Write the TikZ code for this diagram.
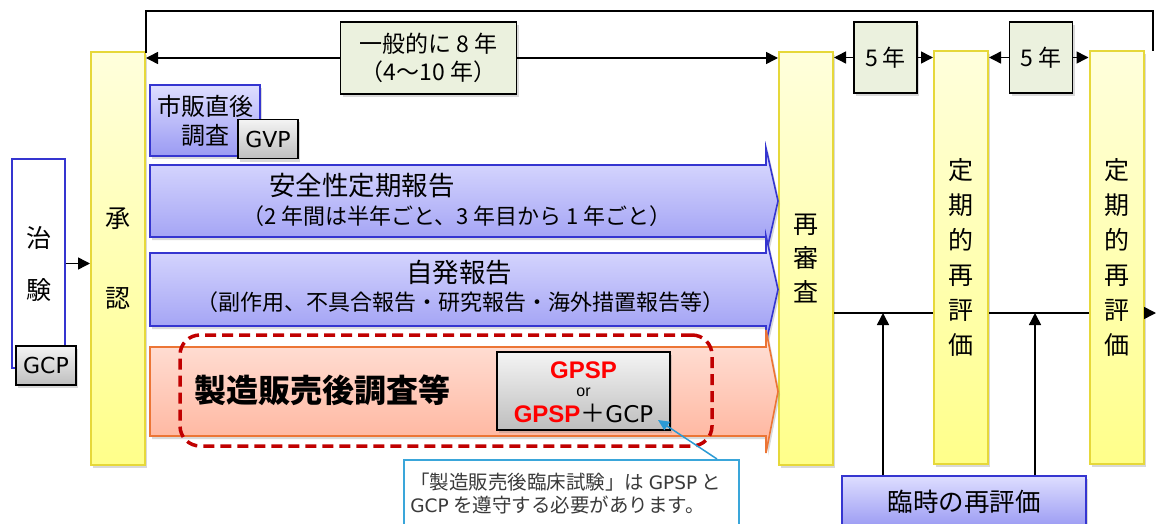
\documentclass[tikz,border=0pt]{standalone}
\usepackage{fontspec}
\setmainfont{Noto Sans CJK JP}
\newfontfamily\latinfont{DejaVu Sans}
\newfontfamily\gpspfont{Liberation Sans}
\usetikzlibrary{arrows.meta,shadows,positioning}

\definecolor{yellowline}{HTML}{E6D83A}
\definecolor{yellowtop}{HTML}{FFFFDC}
\definecolor{yellowbot}{HTML}{FFFF8A}
\definecolor{blueline}{HTML}{3535D0}
\definecolor{bluetop}{HTML}{DEDEFF}
\definecolor{bluebot}{HTML}{9A9AF3}
\definecolor{orangeline}{HTML}{EC7535}
\definecolor{orangetop}{HTML}{FFE3DA}
\definecolor{orangebot}{HTML}{FFB29A}
\definecolor{greenfill}{HTML}{EBF1DE}
\definecolor{graytop}{HTML}{F4F4F4}
\definecolor{graybot}{HTML}{BEBEBE}
\definecolor{darkred}{HTML}{C00000}
\definecolor{calloutline}{HTML}{3AA6DA}
\definecolor{calloutarrow}{HTML}{2B9AD4}
\definecolor{gpspred}{HTML}{FF0000}
\definecolor{softtext}{HTML}{3A3A3A}

\begin{document}
\begin{tikzpicture}[x=1pt, y=-1pt, thick,
	boxshadow/.style={drop shadow={opacity=0.3, shadow xshift=2pt, shadow yshift=-3pt}},
	stagebar/.style={draw=yellowline, line width=2pt, top color=yellowtop, bottom color=yellowbot, minimum width=54pt, minimum height=412pt, inner sep=0pt, align=center, boxshadow},
	periodbox/.style={draw, line width=1.5pt, fill=greenfill, inner sep=0pt, align=center, boxshadow, font=\fontsize{23}{28}\selectfont},
	rulebox/.style={draw, line width=1.5pt, top color=graytop, bottom color=graybot, inner sep=0pt, minimum width=60pt, minimum height=39pt, boxshadow, font=\latinfont\fontsize{22}{24}\selectfont},
	bluebox/.style={draw=blueline, line width=1.6pt, top color=bluetop, bottom color=bluebot, boxshadow},
	orangebox/.style={draw=orangeline, line width=1.6pt, top color=orangetop, bottom color=orangebot, boxshadow},
	link/.style={line width=1.5pt},
	arr/.style={line width=1.5pt, -{Triangle[length=12pt, width=12pt]}},
	pointer/.style={draw=calloutarrow, line width=1.5pt, -{Triangle[length=11pt, width=10pt]}},
	bigtext/.style={font=\fontsize{26.5}{30}\selectfont},
	subtext/.style={font=\fontsize{22}{26}\selectfont}]

	\useasboundingbox (0,0) rectangle (1156,524);

	% stages along the time line
	\node[draw=blueline, line width=1.6pt, fill=white, minimum width=53pt, minimum height=209pt, align=center, font=\fontsize{25}{52}\selectfont] (trial) at (38.5,263.5) {治\\験};
	\node[rulebox] (gcp) at (46,365.5) {GCP};
	\node[stagebar, font=\fontsize{25}{80}\selectfont] (appr) at (118,258.5) {承\\認};
	\node[stagebar, font=\fontsize{25}{34}\selectfont] (rev) at (806,258.5) {再\\審\\査};
	\node[stagebar, font=\fontsize{25}{35}\selectfont] (per1) at (961,257.5) {定\\期\\的\\再\\評\\価};
	\node[stagebar, font=\fontsize{25}{35}\selectfont] (per2) at (1116.5,257.5) {定\\期\\的\\再\\評\\価};

	\draw[arr] (trial.east) -- (appr.west |- trial.east);

	% periods
	\node[periodbox, minimum width=176pt, minimum height=72pt] (gen) at (428.5,58) {一般的に 8 年\\（4～10 年）};
	\node[periodbox, minimum width=63pt, minimum height=71pt] (five1) at (885.5,57.5) {5 年};
	\node[periodbox, minimum width=63pt, minimum height=71pt] (five2) at (1041,57.5) {5 年};

	\draw[arr] (gen.west) -- (appr.east |- gen.west);
	\draw[arr] (gen.east) -- (rev.west |- gen.east);
	\draw[arr] (five1.west) -- (rev.east |- five1.west);
	\draw[arr] (five1.east) -- (per1.west |- five1.east);
	\draw[arr] (five2.west) -- (per1.east |- five2.west);
	\draw[arr] (five2.east) -- (per2.west |- five2.east);

	\coordinate (brl) at (146,53);
	\coordinate (brtop) at (146,11);
	\coordinate (brr) at (1153,51);
	\draw[link] (brl) -- (brtop) -| (brr);

	% post-marketing reports
	\node[bluebox, minimum width=110pt, minimum height=71pt, align=center, font=\fontsize{24}{29}\selectfont] (pms) at (205,120.5) {市販直後\\調査};
	\node[rulebox] (gvp) at (268,139) {GVP};

	\draw[bluebox] (150,165) -- (766,165) -- (766,148) -- (778,201) -- (766,254) -- (766,237) -- (150,237) -- cycle;
	\node[bigtext] (safety) at (362,186) {安全性定期報告};
	\node[subtext] (safetynote) at (457,216) {（2 年間は半年ごと、3 年目から 1 年ごと）};

	\draw[bluebox] (150,253) -- (766,253) -- (766,236) -- (778,289.5) -- (766,343) -- (766,326) -- (150,326) -- cycle;
	\node[bigtext] (spont) at (459,273) {自発報告};
	\node[subtext] (spontnote) at (460,302) {（副作用、不具合報告・研究報告・海外措置報告等）};

	\draw[orangebox] (150,347) -- (766,347) -- (766,330) -- (778,391.5) -- (766,453) -- (766,436) -- (150,436) -- cycle;
	\node[font=\fontsize{32}{36}\selectfont\bfseries] (survey) at (322,390) {製造販売後調査等};
	\node[rulebox, minimum width=173pt, minimum height=78pt] (gpsp) at (583.5,391) {};
	\node[inner sep=0pt, font=\gpspfont\bfseries\fontsize{24}{24}\selectfont, text=gpspred] (gpsptop) at ([yshift=21pt]gpsp.center) {GPSP};
	\node[inner sep=0pt, font=\gpspfont\fontsize{16}{16}\selectfont] (gpspor) at ([yshift=-1pt]gpsp.center) {or};
	\node[inner sep=0pt, font=\fontsize{25}{25}\selectfont] (gpspbot) at ([yshift=-22pt]gpsp.center) {{\gpspfont\bfseries\fontsize{24}{25}\selectfont\color{gpspred}GPSP}＋{\latinfont\fontsize{23}{25}\selectfont GCP}};
	\node[draw=darkred, line width=3.5pt, dash pattern=on 11pt off 6pt, rounded corners=20pt, minimum width=532pt, minimum height=111pt] (focus) at (446,390.5) {};

	% note
	\node[draw=calloutline, line width=1.5pt, fill=white, minimum width=335pt, minimum height=80pt, anchor=north west] (note) at (403,459) {};
	\node[anchor=north west, align=left, inner sep=0pt, text=softtext, font=\fontsize{19.5}{23}\selectfont] (notetext) at ([xshift=7pt, yshift=-14pt]note.north west) {「製造販売後臨床試験」は {\latinfont\fontsize{18.5}{23}\selectfont GPSP} と\\{\latinfont\fontsize{18.5}{23}\selectfont GCP} を遵守する必要があります。};
	\coordinate (ptrbase) at ([xshift=314pt]note.north west);
	\coordinate (ptrtip) at (658,420);
	\draw[pointer] (ptrbase) -- (ptrtip);

	% re-evaluation line
	\node[bluebox, minimum width=244pt, minimum height=52pt, anchor=north, font=\fontsize{25.5}{28}\selectfont] (adhoc) at (964,475) {臨時の再評価};
	\coordinate (tlend) at (1156,313);
	\coordinate (up1) at (883,313);
	\coordinate (up2) at (1035,313);
	\draw[link] (rev.east |- tlend) -- (per1.west |- tlend);
	\draw[link] (per1.east |- tlend) -- (per2.west |- tlend);
	\draw[arr] (per2.east |- tlend) -- (tlend);
	\draw[arr] (adhoc.north -| up1) -- (up1);
	\draw[arr] (adhoc.north -| up2) -- (up2);
\end{tikzpicture}
\end{document}
